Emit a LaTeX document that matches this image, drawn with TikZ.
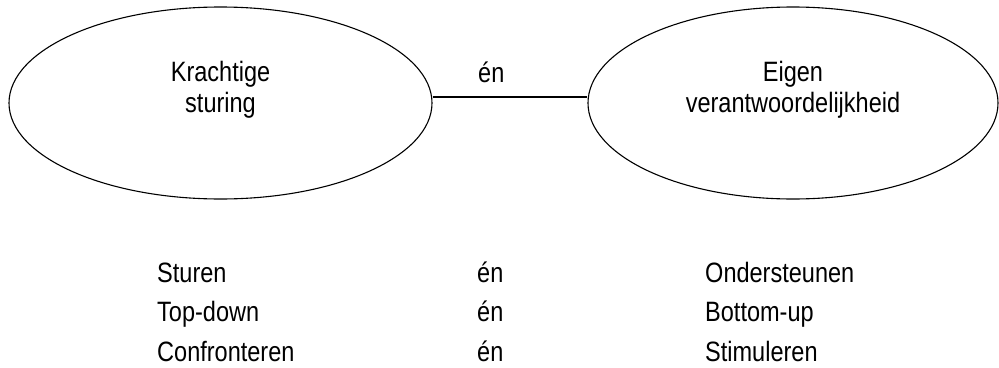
\documentclass[tikz,border=0pt]{standalone}
\usepackage{fontspec}
\setmainfont{Liberation Sans}[FakeStretch=0.84]
\usetikzlibrary{shapes.geometric,positioning}

\tikzset{
  blob/.style={ellipse, draw, line width=1.1pt, inner sep=0pt,
    minimum width=423pt, minimum height=192pt},
  caption/.style={align=center, font=\fontsize{28}{31}\selectfont},
  word/.style={anchor=base west, inner sep=0pt, font=\fontsize{28}{31}\selectfont},
}

\begin{document}
\begin{tikzpicture}[x=1pt,y=-1pt]
  \useasboundingbox (0,0) rectangle (999,367);

  % the two poles
  \node[blob] (kracht) at (220.5,103) {};
  \node[blob, minimum width=410pt] (eigen) at (793,103) {};
  \node[caption, yshift=13pt] (krachttxt) at (kracht.center) {Krachtige\\sturing};
  \node[caption, yshift=13pt] (eigentxt) at (eigen.center) {Eigen\\verantwoordelijkheid};
  \draw[line width=1.1pt] ([yshift=6pt]kracht.east) -- ([yshift=6pt]eigen.west);
  \node[word] (en) at (478,82) {én};

  % pairs below
  \node[word] (sturen)   at (157,282)   {Sturen};
  \node[word] (topdown)  at (157,321.5) {Top-down};
  \node[word] (confront) at (157,361)   {Confronteren};
  \node[word] (ena) at (477,282)   {én};
  \node[word] (enb) at (477,321.5) {én};
  \node[word] (enc) at (477,361)   {én};
  \node[word] (onder)    at (705,282)   {Ondersteunen};
  \node[word] (bottomup) at (705,321.5) {Bottom-up};
  \node[word] (stimul)   at (705,361)   {Stimuleren};
\end{tikzpicture}
\end{document}
